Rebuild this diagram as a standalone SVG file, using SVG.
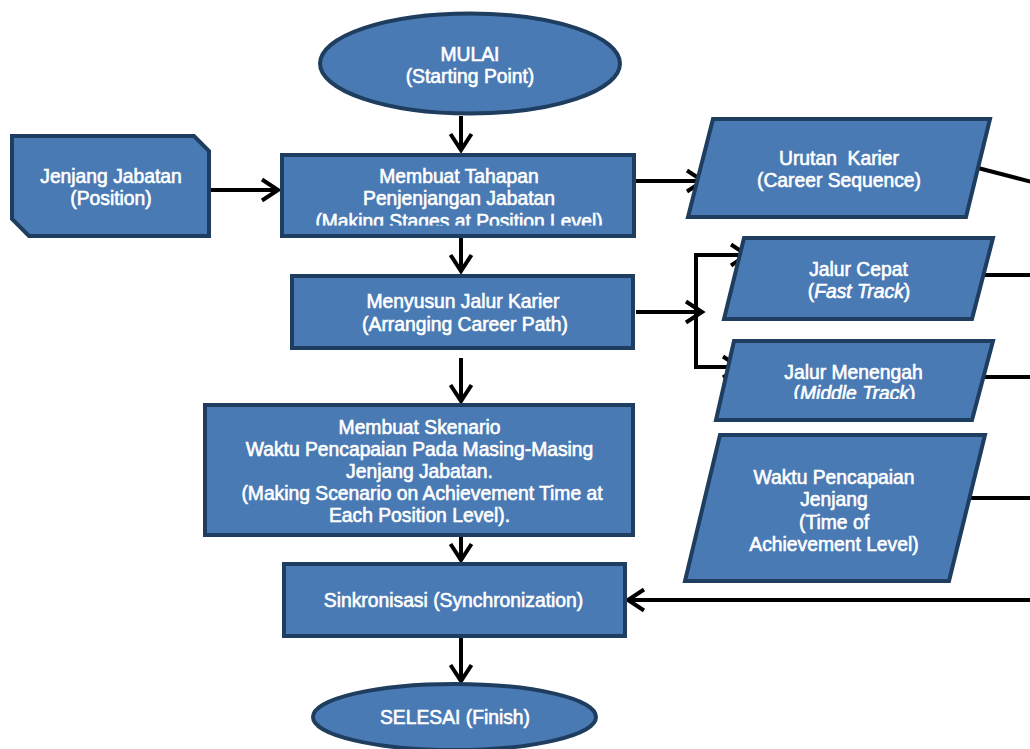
<svg xmlns="http://www.w3.org/2000/svg" width="1030" height="749" viewBox="0 0 1030 749">
<style>
.n{fill:#4a7ab4;stroke:#1e3d5f;stroke-width:4;stroke-linejoin:miter}
.t{font-family:"Liberation Sans",Arial,sans-serif;font-size:19.3px;fill:#fff;stroke:#fff;stroke-width:0.6;text-anchor:middle}
.c{fill:none;stroke:#000;stroke-width:4}
</style>
<defs>
<marker id="ah" markerUnits="userSpaceOnUse" viewBox="-22 -15 26 30" markerWidth="26" markerHeight="30" refX="0" refY="0" orient="auto">
<path d="M-16,-10.5 L0,0 L-16,10.5" fill="none" stroke="#000" stroke-width="4" stroke-linejoin="miter"/>
</marker>
<clipPath id="clip1"><rect x="282" y="155" width="352" height="70.5"/></clipPath>
<clipPath id="clip2"><rect x="700" y="339" width="300" height="60"/></clipPath>
</defs>
<rect width="1030" height="749" fill="#fff"/>
<g id="connectors">
<line class="c" x1="461" y1="116" x2="461" y2="150" marker-end="url(#ah)"/>
<line class="c" x1="211" y1="190" x2="278" y2="190" marker-end="url(#ah)"/>
<line class="c" x1="636" y1="181" x2="703" y2="181" marker-end="url(#ah)"/>
<line class="c" x1="461" y1="229" x2="461" y2="271" marker-end="url(#ah)"/>
<line class="c" x1="636" y1="312" x2="702" y2="312" marker-end="url(#ah)"/>
<polyline class="c" points="746,255 696,255 696,367 738,367"/>
<line class="c" x1="700" y1="255" x2="747" y2="255" marker-end="url(#ah)"/>
<line class="c" x1="700" y1="367" x2="739" y2="367" marker-end="url(#ah)"/>
<line class="c" x1="461" y1="358" x2="461" y2="401" marker-end="url(#ah)"/>
<line class="c" x1="461" y1="527" x2="461" y2="560" marker-end="url(#ah)"/>
<line class="c" x1="461" y1="637" x2="461" y2="681" marker-end="url(#ah)"/>
<line class="c" x1="978" y1="168" x2="1032" y2="182"/>
<line class="c" x1="985" y1="275" x2="1032" y2="275"/>
<line class="c" x1="985" y1="377" x2="1032" y2="377"/>
<line class="c" x1="967" y1="498" x2="1032" y2="498"/>
<line class="c" x1="1032" y1="600" x2="628" y2="600" marker-end="url(#ah)"/>
</g>
<g id="start">
<ellipse class="n" cx="470" cy="63.5" rx="150" ry="50"/>
<text class="t" x="470" y="61">MULAI</text>
<text class="t" x="470" y="83">(Starting Point)</text>
</g>
<g id="jenjang-jabatan">
<path class="n" d="M12,136 L194,136 L209,151 L209,236 L29,236 L12,219 Z"/>
<text class="t" x="111" y="183">Jenjang Jabatan</text>
<text class="t" x="111" y="205">(Position)</text>
</g>
<g id="membuat-tahapan">
<rect class="n" x="282" y="155" width="352" height="81"/>
<g clip-path="url(#clip1)">
<text class="t" x="459" y="183">Membuat Tahapan</text>
<text class="t" x="459" y="205">Penjenjangan Jabatan</text>
<text class="t" x="459" y="227.5">(Making Stages at Position Level)</text>
</g>
</g>
<g id="urutan-karier">
<polygon class="n" points="713,119 990,119 966,217 688,217"/>
<text class="t" x="839" y="164.5" xml:space="preserve">Urutan  Karier</text>
<text class="t" x="839" y="187">(Career Sequence)</text>
</g>
<g id="menyusun-jalur">
<rect class="n" x="292" y="276" width="341" height="72"/>
<text class="t" x="463" y="308">Menyusun Jalur Karier</text>
<text class="t" x="465" y="331">(Arranging Career Path)</text>
</g>
<g id="jalur-cepat">
<polygon class="n" points="744,238 993,238 972,319 724,319"/>
<text class="t" x="858.5" y="276">Jalur Cepat</text>
<text class="t" x="859" y="298">(<tspan font-style="italic">Fast Track</tspan>)</text>
</g>
<g id="jalur-menengah">
<polygon class="n" points="734,341 993,341 972,420 716,420"/>
<text class="t" x="853.5" y="378.5">Jalur Menengah</text>
<g clip-path="url(#clip2)">
<text class="t" x="854.5" y="400">(<tspan font-style="italic">Middle Track</tspan>)</text>
</g>
</g>
<g id="membuat-skenario">
<rect class="n" x="205" y="405" width="428" height="130"/>
<text class="t" x="419.5" y="433.5">Membuat Skenario</text>
<text class="t" x="419.5" y="455.5">Waktu Pencapaian Pada Masing-Masing</text>
<text class="t" x="419.5" y="477.5">Jenjang Jabatan.</text>
<text class="t" x="422" y="500">(Making Scenario on Achievement Time at</text>
<text class="t" x="419.5" y="522">Each Position Level).</text>
</g>
<g id="waktu-pencapaian">
<polygon class="n" points="720,435 985,435 949,581 685,581"/>
<text class="t" x="834" y="484">Waktu Pencapaian</text>
<text class="t" x="834" y="506">Jenjang</text>
<text class="t" x="834" y="528.5">(Time of</text>
<text class="t" x="834" y="550.5">Achievement Level)</text>
</g>
<g id="sinkronisasi">
<rect class="n" x="284" y="564" width="341" height="72"/>
<text class="t" x="453.5" y="607">Sinkronisasi (Synchronization)</text>
</g>
<g id="finish">
<ellipse class="n" cx="454.5" cy="717" rx="141.5" ry="33"/>
<text class="t" x="455" y="724">SELESAI (Finish)</text>
</g>
</svg>
